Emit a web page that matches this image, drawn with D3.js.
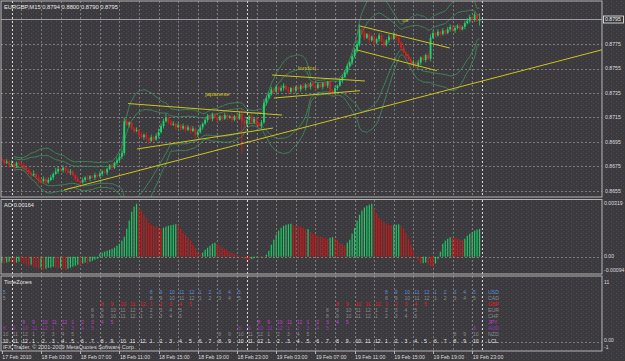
<!DOCTYPE html>
<html>
<head>
<meta charset="utf-8">
<script src="https://cdnjs.cloudflare.com/ajax/libs/d3/7.8.5/d3.min.js"></script>
<title>EURGBP M15</title>
<style>
  body { margin: 0; background: #3a3a3a; }
  svg text { font-family: "Liberation Sans", Arial, sans-serif; }
</style>
</head>
<body>
<svg width="625" height="361" id="mainsvg"></svg>
<script>
// ---- data (prices in pips above 0.8600, AO in 1e-5) ----
const base = 0.8600, pip = 0.0001;
const firstOpen = 81;
const closes = [
  80, 78, 79, 76, 77, 75, 78, 77, 76, 74,
  72, 70, 68, 69, 66, 64, 63, 65, 62, 64,
  66, 69, 71, 73, 72, 74, 72, 70, 71, 68,
  65, 63, 62, 64, 66, 65, 67, 66, 68, 67,
  69, 71, 70, 73, 75, 74, 78, 80, 83, 86,
  112, 109, 111, 106, 104, 105, 101, 99, 101, 98,
  96, 99, 97, 100, 103, 108, 112, 115, 111, 109,
  110, 107, 109, 106, 108, 105, 107, 104, 106, 101,
  103, 107, 110, 113, 116, 114, 117, 115, 113, 116,
  114, 117, 115, 116, 113, 116, 114, 118, 112, 110,
  113, 116, 111, 114, 110, 108, 111, 127, 131, 134,
  138, 136, 140, 137, 139, 141, 138, 136, 139, 137,
  140, 138, 141, 139, 142, 140, 143, 141, 139, 142,
  140, 143, 141, 144, 137, 135, 139, 141, 145, 148,
  152, 157, 160, 165, 170, 175, 187, 184, 180, 183,
  178, 181, 176, 179, 182, 177, 174, 178, 181, 179,
  183, 180, 176, 172, 168, 165, 162, 159, 160, 157,
  160, 164, 162, 166, 163, 180, 184, 182, 185, 183,
  186, 184, 187, 189, 186, 188, 190, 187, 189, 192,
  194, 197, 195, 199, 194, 195
];
const upWick = [
  2, 1, 2, 1, 3, 2, 1, 2, 1, 2,  1, 2, 1, 3, 1, 2, 1, 2, 1, 2,
  2, 1, 3, 2, 1, 2, 1, 2, 2, 1,  1, 2, 1, 2, 1, 2, 1, 1, 2, 1,
  2, 1, 2, 1, 2, 3, 1, 2, 2, 2,  3, 2, 1, 2, 1, 2, 1, 2, 1, 2,
  1, 2, 1, 2, 3, 2, 2, 3, 1, 2,  2, 1, 2, 1, 2, 1, 2, 1, 2, 1,
  2, 2, 1, 2, 2, 1, 2, 1, 2, 1,  1, 2, 1, 1, 2, 1, 2, 2, 4, 3,
  2, 1, 2, 1, 2, 1, 2, 3, 2, 2,  2, 1, 2, 1, 2, 2, 1, 2, 1, 2,
  1, 2, 1, 2, 1, 2, 1, 2, 1, 2,  2, 1, 2, 1, 2, 1, 2, 1, 2, 2,
  2, 2, 1, 2, 2, 3, 4, 2, 2, 1,  2, 1, 2, 1, 2, 1, 2, 1, 2, 1,
  2, 1, 2, 1, 2, 1, 2, 1, 2, 1,  2, 1, 2, 1, 2, 3, 2, 1, 2, 1,
  2, 1, 2, 2, 1, 2, 1, 2, 1, 2,  2, 2, 1, 2, 1, 5
];
const downWick = [
  1, 2, 1, 2, 1, 2, 1, 2, 2, 1,  2, 1, 2, 1, 2, 3, 2, 1, 2, 1,
  1, 2, 1, 2, 1, 2, 2, 1, 2, 1,  2, 1, 2, 1, 2, 1, 2, 1, 2, 1,
  1, 2, 1, 2, 1, 2, 1, 2, 1, 2,  2, 1, 2, 1, 2, 1, 2, 1, 2, 2,
  3, 1, 2, 1, 2, 1, 2, 1, 2, 1,  1, 2, 1, 2, 1, 2, 1, 2, 1, 3,
  2, 1, 2, 1, 2, 1, 2, 1, 2, 1,  2, 1, 2, 1, 2, 1, 2, 1, 26, 3,
  2, 3, 2, 1, 2, 1, 2, 1, 2, 1,  1, 2, 1, 2, 1, 2, 1, 2, 1, 2,
  2, 1, 2, 1, 2, 1, 2, 1, 2, 1,  1, 2, 1, 2, 3, 2, 1, 2, 1, 2,
  1, 2, 1, 2, 1, 2, 2, 1, 2, 1,  2, 1, 2, 1, 2, 1, 2, 1, 2, 1,
  1, 2, 1, 2, 1, 2, 1, 2, 3, 2,  1, 2, 1, 2, 1, 2, 1, 2, 1, 2,
  1, 2, 1, 2, 1, 2, 1, 2, 1, 2,  1, 2, 1, 2, 1, 4
];
const aoVals = [
  -35, -41, -35, -30, -35, -41, -35, -30, -35, -41,
  -47, -53, -47, -59, -65, -71, -65, -77, -71, -65,
  -65, -59, -65, -71, -65, -71, -77, -71, -65, -59,
  -53, -47, -53, -41, -35, -41, -30, -24, -18, -12,
  18, 24, 30, 35, 41, 47, 53, 65, 77, 95,
  118, 165, 213, 266, 296, 313, 290, 272, 248, 225,
  201, 189, 183, 177, 171, 165, 171, 177, 183, 186,
  189, 192, 189, 165, 142, 130, 112, 95, 71, 53,
  30, 15, 24, 41, 53, 65, 77, 83, 74, 65,
  53, 44, 35, 27, 21, 15, 9, 3, -6, -15,
  -18, -21, -15, -9, -6, -7, -5, -6, 12, 35,
  71, 100, 130, 154, 171, 183, 189, 192, 195, 186,
  183, 180, 177, 171, 160, 163, 148, 136, 130, 124,
  118, 112, 109, 106, 112, 115, 106, 98, 83, 74,
  65, 83, 100, 136, 171, 213, 248, 272, 290, 301,
  307, 313, 284, 254, 230, 216, 207, 195, 189, 183,
  186, 189, 191, 180, 165, 142, 106, 71, 35, 6,
  -24, -41, -38, -35, -47, -56, -59, -41, -12, 30,
  77, 95, 106, 115, 112, 109, 106, 102, 99, 106,
  124, 136, 145, 154, 160, 164
];
// trendlines as [bar index, price]
const trendLines = [
  [[25.4, 0.86558], [245.4, 0.87705]],
  [[51.5, 0.87264], [114.4, 0.87170]],
  [[55.2, 0.86893], [110.7, 0.87064]],
  [[110.3, 0.87497], [148.2, 0.87448]],
  [[111.1, 0.87309], [146.2, 0.87369]],
  [[146.2, 0.87897], [182.9, 0.87717]],
  [[145.0, 0.87701], [177.6, 0.87532]]
];
const notes = [
  {text: 'japanese', bar: 83, price: 0.87326},
  {text: 'london', bar: 120.9, price: 0.87538},
  {text: 'us', bar: 163.4, price: 0.87930}
];
const priceTicks = [0.8775, 0.8755, 0.8735, 0.8715, 0.8695, 0.8675, 0.8655];
const lastPrice = 0.8795;
// time: hours from 18 Feb 00:00 (server)
const timeTickHours = [-1, 3, 7, 11, 15, 19, 23, 27, 31, 35, 39, 43, 47];
const timeTickLabels = ['17 Feb 2010', '18 Feb 03:00', '18 Feb 07:00', '18 Feb 11:00', '18 Feb 15:00',
  '18 Feb 19:00', '18 Feb 23:00', '19 Feb 03:00', '19 Feb 07:00', '19 Feb 11:00', '19 Feb 15:00',
  '19 Feb 19:00', '19 Feb 23:00'];
const daySeparators = [0, 24, 48];
// timezones
const tzNames = ['USD', 'CAD', 'GBP', 'EUR', 'CHF', 'JPY', 'AUD', 'NZD', 'LCL'];
const tzOffsets = [-5, -5, 0, 1, 1, 8, 10, 12, 0];
const tzColors = ['#5b8ed8', '#8c8c8c', '#e41e1e', '#8c8c8c', '#8c8c8c', '#c040d0', '#9c36b8', '#8c8c8c', '#e8e8e8'];
const lclStartHour = 22, tzColumns = 49;

// ---- drawing ----
let svg = d3.select('#mainsvg');
const W = +svg.attr('width'), H = +svg.attr('height');
const plotR = 602;

const defs = svg.append('defs');
const pat = defs.append('pattern').attr('id', 'speck').attr('width', 5).attr('height', 4)
  .attr('patternUnits', 'userSpaceOnUse');
pat.append('rect').attr('width', 5).attr('height', 4).attr('fill', '#3b3a3c');
pat.append('rect').attr('x', 1).attr('y', 1).attr('width', 1).attr('height', 1).attr('fill', '#5a4868');
pat.append('rect').attr('x', 3).attr('y', 3).attr('width', 1).attr('height', 1).attr('fill', '#4c4456');
defs.append('clipPath').attr('id', 'mainclip').append('rect')
  .attr('x', 1).attr('y', 1).attr('width', plotR - 1).attr('height', 196);

svg.append('rect').attr('width', W).attr('height', H).attr('fill', 'url(#speck)');

const x = d3.scaleLinear().domain([0, 195]).range([1.8, 479.55]);
const hx = h => x((h + 1) * 4);
const y = d3.scaleLinear().domain([0.8655, 0.8795]).range([191, 19.5]);
const yA = d3.scaleLinear().domain([-94, 319]).range([272.6, 202.7]);
const yT = d3.scaleLinear().domain([-1, 11]).range([347, 281]);
const yRow = d3.scalePoint().domain(tzNames).range([291.7, 340.7]);

const gridCol = '#7c7c7c';
// vertical grid
const gridHours = d3.range(1, 48, 2);
[[1, 197], [200, 274], [276, 351]].forEach(([t, b]) => {
  svg.append('g').selectAll('line').data(gridHours).join('line')
    .attr('x1', d => Math.round(hx(d)) + 0.5).attr('x2', d => Math.round(hx(d)) + 0.5)
    .attr('y1', t).attr('y2', b)
    .attr('stroke', gridCol).attr('stroke-width', 1).attr('stroke-dasharray', '2,2');
  svg.append('g').selectAll('line').data(daySeparators).join('line')
    .attr('x1', d => Math.round(hx(d)) + 0.5).attr('x2', d => Math.round(hx(d)) + 0.5)
    .attr('y1', t).attr('y2', b)
    .attr('stroke', '#d8d8d8').attr('stroke-width', 1).attr('stroke-dasharray', '2,2');
});
// horizontal grid
svg.append('g').selectAll('line').data(priceTicks).join('line')
  .attr('x1', 1).attr('x2', plotR)
  .attr('y1', d => Math.round(y(d)) + 0.5).attr('y2', d => Math.round(y(d)) + 0.5)
  .attr('stroke', gridCol).attr('stroke-dasharray', '2,2');
svg.append('line').attr('x1', 1).attr('x2', plotR)
  .attr('y1', Math.round(yA(0)) + 0.5).attr('y2', Math.round(yA(0)) + 0.5)
  .attr('stroke', gridCol).attr('stroke-dasharray', '2,2');
svg.append('line').attr('x1', 1).attr('x2', plotR)
  .attr('y1', Math.round(yT(0)) + 0.5).attr('y2', Math.round(yT(0)) + 0.5)
  .attr('stroke', gridCol).attr('stroke-dasharray', '2,2');

// candles
const bars = closes.map((c, i) => {
  const o = i === 0 ? firstOpen : closes[i - 1];
  return {i, o: base + o * pip, c: base + c * pip,
    h: base + (Math.max(o, c) + upWick[i]) * pip,
    l: base + (Math.min(o, c) - downWick[i]) * pip};
});
const main = svg.append('g').attr('clip-path', 'url(#mainclip)');

// bollinger bands
const bandDevs = [2, 3];
const bandPts = closes.map((c, i) => {
  const w = closes.slice(Math.max(0, i - 19), i + 1).map(v => base + v * pip);
  return {i, m: d3.mean(w), s: d3.deviation(w) || 0};
}).filter(d => d.i >= 5);
const bandLine = (dev) => d3.line().x(d => x(d.i)).y(d => y(d.m + dev * d.s)).curve(d3.curveMonotoneX);
bandDevs.forEach(dv => {
  [dv, -dv].forEach(sg => {
    main.append('path').datum(bandPts).attr('d', bandLine(sg))
      .attr('fill', 'none').attr('stroke', '#3f8a5c').attr('stroke-width', 0.9);
  });
});

// current price line
main.append('line').attr('x1', 1).attr('x2', plotR)
  .attr('y1', y(lastPrice)).attr('y2', y(lastPrice))
  .attr('stroke', '#b8b8c4').attr('stroke-width', 0.8);

const bull = '#1ed36c', bear = '#e01c1c';
main.append('g').selectAll('line').data(bars).join('line')
  .attr('x1', d => x(d.i)).attr('x2', d => x(d.i))
  .attr('y1', d => y(d.h)).attr('y2', d => y(d.l))
  .attr('stroke', d => d.c >= d.o ? bull : bear).attr('stroke-width', 0.8);
main.append('g').selectAll('rect').data(bars).join('rect')
  .attr('x', d => x(d.i) - 0.9).attr('width', 1.8)
  .attr('y', d => y(Math.max(d.o, d.c)))
  .attr('height', d => Math.max(0.8, Math.abs(y(d.o) - y(d.c))))
  .attr('fill', d => d.c >= d.o ? bull : bear);

// trendlines + notes
main.append('g').selectAll('line').data(trendLines).join('line')
  .attr('x1', d => x(d[0][0])).attr('y1', d => y(d[0][1]))
  .attr('x2', d => x(d[1][0])).attr('y2', d => y(d[1][1]))
  .attr('stroke', '#cfc41c').attr('stroke-width', 1);
main.append('g').selectAll('text').data(notes).join('text')
  .attr('x', d => x(d.bar)).attr('y', d => y(d.price))
  .attr('fill', '#cfc41c').attr('font-size', 6).text(d => d.text);

// AO histogram
svg.append('g').selectAll('rect').data(aoVals).join('rect')
  .attr('x', (d, i) => x(i) - 0.6).attr('width', 1.2)
  .attr('y', d => Math.min(yA(d), yA(0)))
  .attr('height', d => Math.abs(yA(d) - yA(0)))
  .attr('fill', (d, i) => (i === 0 || d >= aoVals[i - 1]) ? '#20c866' : '#c81a1a');

// timezones
const cols = d3.range(tzColumns);
const h12 = h => ((h + 11) % 12) + 1;
tzNames.forEach((name, r) => {
  const cells = cols.map(k => {
    const loc = ((lclStartHour + k + tzOffsets[r]) % 24 + 24) % 24;
    return {k, loc};
  }).filter(d => name === 'LCL' || (d.loc >= 8 && d.loc <= 17));
  svg.append('g').selectAll('text').data(cells).join('text')
    .attr('x', d => x(d.k * 4) + 0.9).attr('y', yRow(name) + 1.8)
    .attr('fill', tzColors[r]).attr('font-size', 5).text(d => h12(d.loc));
  svg.append('text').attr('x', 488).attr('y', yRow(name) + 1.8)
    .attr('fill', tzColors[r]).attr('font-size', 5.2).text(name);
});

// panel frames
const frame = '#b4b4b4';
[[1, 197], [199.5, 274], [276, 351]].forEach(([t, b]) => {
  svg.append('rect').attr('x', 1).attr('y', t).attr('width', plotR - 1).attr('height', b - t)
    .attr('fill', 'none').attr('stroke', frame).attr('stroke-width', 1);
});

// right axis labels
const lab = '#dcdcdc';
svg.append('g').selectAll('text').data(priceTicks).join('text')
  .attr('x', 605).attr('y', d => y(d) + 1.8).attr('fill', lab).attr('font-size', 5.2)
  .text(d => d.toFixed(4));
svg.append('rect').attr('x', 603.5).attr('y', y(lastPrice) - 3.5).attr('width', 20).attr('height', 7)
  .attr('fill', '#3a3a3a').attr('stroke', '#f0f0f0').attr('stroke-width', 0.8);
svg.append('text').attr('x', 605).attr('y', y(lastPrice) + 1.8).attr('fill', '#f0f0f0')
  .attr('font-size', 5.2).text(lastPrice.toFixed(4));
[[319, '0.00319', 2.5], [0, '0.00', 1.8], [-94, '-0.00094', -0.5]].forEach(([v, t, dy]) => {
  svg.append('text').attr('x', 604).attr('y', yA(v) + dy).attr('fill', lab).attr('font-size', 5.2).text(t);
});
[[11, '11', 2.5], [0, '0.00', 0.8], [-1, '-1', 2.2]].forEach(([v, t, dy]) => {
  svg.append('text').attr('x', 604).attr('y', yT(v) + dy).attr('fill', lab).attr('font-size', 5).text(t);
});

// time axis
svg.append('g').selectAll('line').data(timeTickHours).join('line')
  .attr('x1', d => Math.round(hx(d)) + 0.5).attr('x2', d => Math.round(hx(d)) + 0.5)
  .attr('y1', 351).attr('y2', 354).attr('stroke', frame);
svg.append('g').selectAll('text').data(timeTickHours).join('text')
  .attr('x', d => Math.max(0, hx(d) + 0.5)).attr('y', 359)
  .attr('fill', lab).attr('font-size', 5.2).text((d, i) => timeTickLabels[i]);

// titles
svg.append('text').attr('x', 4).attr('y', 9).attr('fill', '#e8e8e8').attr('font-size', 5.8)
  .text('EURGBP,M15  0.8794 0.8800 0.8790 0.8795');
svg.append('text').attr('x', 4).attr('y', 207).attr('fill', '#e8e8e8').attr('font-size', 5.6)
  .text('AO 0.00164');
svg.append('text').attr('x', 4).attr('y', 284).attr('fill', '#e8e8e8').attr('font-size', 5.6)
  .text('TimeZones');
svg.append('text').attr('x', 3).attr('y', 348.5).attr('fill', '#d8d8d8').attr('font-size', 5.6)
  .text('IFX Trader, © 2001-2009 MetaQuotes Software Corp.');
</script>
</body>
</html>
